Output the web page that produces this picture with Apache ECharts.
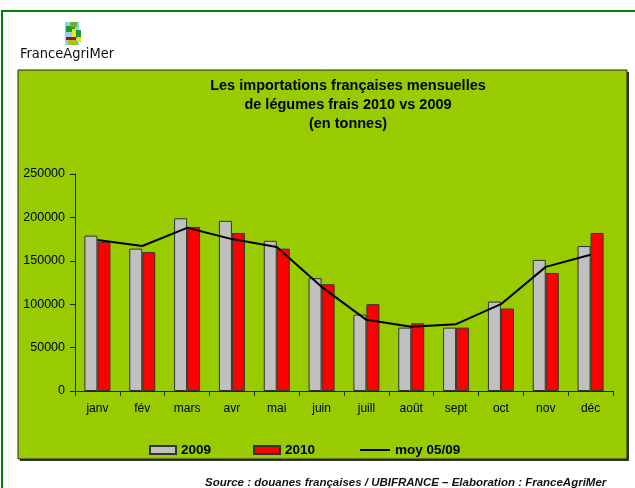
<!DOCTYPE html>
<html><head><meta charset="utf-8">
<script src="https://cdn.jsdelivr.net/npm/echarts@6/dist/echarts.min.js"></script>
<style>html,body{margin:0;padding:0;background:#fff}#c{width:635px;height:488px}</style>
</head><body><div id="c"></div>
<script>
const months = ['janv','fév','mars','avr','mai','juin','juill','août','sept','oct','nov','déc'];
const v2009 = [179000,164000,199000,196000,173000,130000,88000,73000,73000,103000,151000,167000];
const v2010 = [172000,160000,189000,182000,164000,123000,100000,78000,73000,95000,136000,182000];
const moy0509 = [174000,167000,188000,175000,166000,120000,82000,74000,77000,100000,143000,157000];
const yTicks = [0,50000,100000,150000,200000,250000];

const F = 'Liberation Sans';
const chart = echarts.init(document.getElementById('c'), null, {renderer:'canvas'});
chart.setOption({
  animation:false,
  backgroundColor:'#fff',
  graphic:[
    {type:'rect', z:-10, shape:{x:2,y:11,width:800,height:600}, style:{fill:'#fff', stroke:'#008000', lineWidth:2}},
    {type:'rect', z:-9, shape:{x:20,y:72,width:609,height:389}, style:{fill:'#333'}},
    {type:'rect', z:-8, shape:{x:18,y:70,width:609,height:389}, style:{fill:'#99CC00', stroke:'#222', lineWidth:1}},
    // logo
    {type:'rect', z:-7, shape:{x:65,y:22,width:14,height:23}, style:{fill:'#8fd3ee'}},
    {type:'rect', z:-7, shape:{x:66,y:26,width:9,height:6}, style:{fill:'#1a9a3a'}},
    {type:'rect', z:-7, shape:{x:70,y:22,width:7,height:5}, style:{fill:'#66b032'}},
    {type:'rect', z:-7, shape:{x:72,y:29,width:4,height:10}, style:{fill:'#f5e600'}},
    {type:'rect', z:-7, shape:{x:76,y:30,width:5,height:8}, style:{fill:'#1a9a3a'}},
    {type:'rect', z:-7, shape:{x:66,y:37,width:10,height:3}, style:{fill:'#8b1a1a'}},
    {type:'rect', z:-7, shape:{x:68,y:40,width:10,height:5}, style:{fill:'#a8c020'}},
    {type:'rect', z:-7, shape:{x:77,y:37,width:4,height:5}, style:{fill:'#f5e600'}},
    {type:'text', z:5, left:20, top:47, style:{text:'FranceAgriMer', fontFamily:'DejaVu Sans Condensed', fontSize:14.5, fill:'#111'}},
    {type:'text', z:5, left:205, top:477, style:{text:'Source : douanes françaises / UBIFRANCE – Elaboration : FranceAgriMer', fontFamily:F, fontStyle:'italic', fontWeight:'bold', fontSize:11.5, fill:'#111'}}
  ],
  title:{
    text:'Les importations françaises mensuelles\nde légumes frais 2010 vs 2009\n(en tonnes)',
    left:343, top:71, textAlign:'center',
    textStyle:{fontFamily:F, fontSize:14.5, fontWeight:'bold', color:'#000', lineHeight:19}
  },
  legend:[{
    left:144, top:438, itemGap:42, itemWidth:26, itemHeight:8,
    textStyle:{fontFamily:F, fontSize:13.5, fontWeight:'bold', color:'#000'},
    data:[{name:'2009', icon:'rect'},{name:'2010', icon:'rect'}]
  },{
    left:355, top:438, itemWidth:30, itemHeight:2, itemGap:4,
    textStyle:{fontFamily:F, fontSize:13.5, fontWeight:'bold', color:'#000'},
    data:[{name:'moy 05/09', icon:'rect'}]
  }],
  grid:{left:75, right:22, top:174, bottom:97},
  xAxis:{
    type:'category', data:months, boundaryGap:true,
    axisLine:{lineStyle:{color:'#222', width:1}},
    axisTick:{show:true, length:5, lineStyle:{color:'#222'}},
    axisLabel:{fontFamily:F, fontSize:12, color:'#000', margin:12}
  },
  yAxis:{
    type:'value', min:yTicks[0], max:yTicks[yTicks.length-1], interval:50000,
    axisLine:{show:true, lineStyle:{color:'#222', width:1}},
    axisTick:{show:true, length:5, lineStyle:{color:'#222'}},
    splitLine:{show:false},
    axisLabel:{fontFamily:F, fontSize:12.5, color:'#000', margin:10, formatter:v=>String(v)}
  },
  series:[
    {name:'2009', type:'bar', data:v2009, barWidth:13, barGap:'0%',
     itemStyle:{color:'#C0C0C0', borderColor:'#333', borderWidth:1}},
    {name:'2010', type:'bar', data:v2010, barWidth:13, barGap:'0%',
     itemStyle:{color:'#FF0000', borderColor:'#333', borderWidth:1}},
    {name:'moy 05/09', type:'line', data:moy0509, symbol:'none', showSymbol:false,
     lineStyle:{color:'#000', width:2}, itemStyle:{color:'#000'}, z:5}
  ]
});
</script></body></html>
